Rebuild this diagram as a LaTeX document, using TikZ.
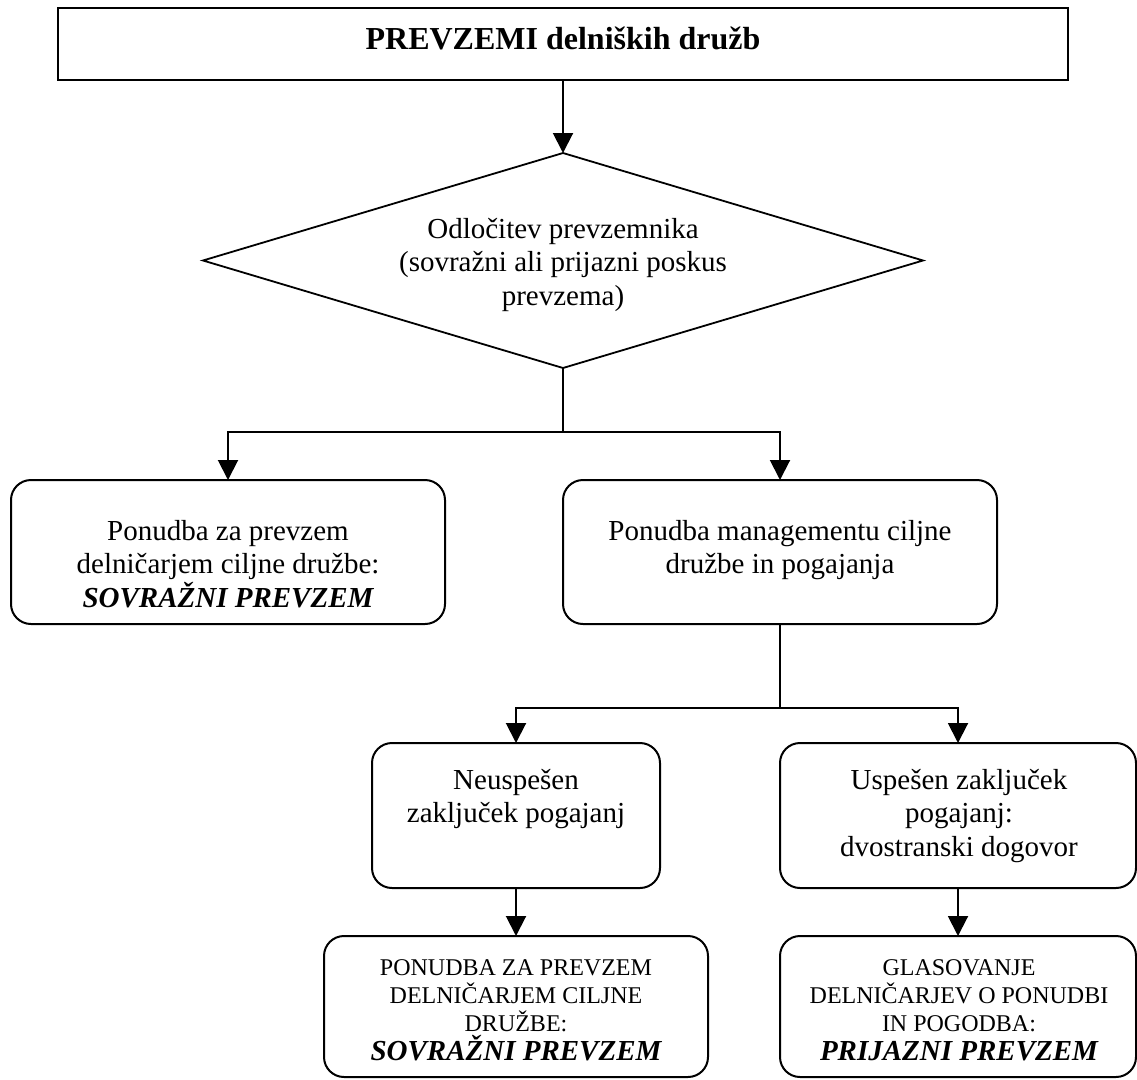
\documentclass[tikz,border=0pt]{standalone}
\usepackage{fontspec}
\setmainfont{Liberation Serif}
\usetikzlibrary{arrows.meta,shapes.geometric}
\begin{document}
\begin{tikzpicture}[x=1pt,y=-1pt,
  every node/.style={inner sep=0pt, outer sep=0pt},
  line/.style={line width=2pt},
  arr/.style={line, -{Triangle[width=20pt,length=20pt]}},
  sqbox/.style={draw, line width=2pt},
  rbox/.style={draw, line width=2pt, rounded corners=20pt},
  decision/.style={draw, diamond, line width=1.8pt, aspect=3.35},
  txt/.style={align=center, anchor=north, font=\fontsize{29}{33.5}\selectfont},
  captxt/.style={align=center, anchor=north, font=\fontsize{24}{27.8}\selectfont}
]
\useasboundingbox (0,0) rectangle (1137,1079);

% shapes
\node[sqbox, minimum width=1010pt, minimum height=72pt] (top) at (563,44) {};
\node[decision, minimum width=720pt, minimum height=215pt] (dec) at (563,260.5) {};
\node[rbox, minimum width=434pt, minimum height=144pt] (b1) at (228,552) {};
\node[rbox, minimum width=434pt, minimum height=144pt] (b2) at (780,552) {};
\node[rbox, minimum width=288pt, minimum height=145pt] (b3) at (516,815.5) {};
\node[rbox, minimum width=356pt, minimum height=145pt] (b4) at (958,815.5) {};
\node[rbox, minimum width=384pt, minimum height=141pt] (b5) at (516,1006.5) {};
\node[rbox, minimum width=356pt, minimum height=141pt] (b6) at (958,1006.5) {};

% texts
\node[anchor=base, font=\fontsize{32}{38}\selectfont\bfseries] (title) at (563,49) {PREVZEMI delniških družb};
\node[txt] (dtext) at (563,218.2) {Odločitev prevzemnika\\(sovražni ali prijazni poskus\\prevzema)};
\node[txt] (t1) at (228,520) {Ponudba za prevzem\\delničarjem ciljne družbe:\\{\bfseries\itshape SOVRAŽNI PREVZEM}};
\node[txt] (t2) at (780,520) {Ponudba managementu ciljne\\družbe in pogajanja};
\node[txt] (t3) at (516,769) {Neuspešen\\zaključek pogajanj};
\node[txt] (t4) at (959,769) {Uspešen zaključek\\pogajanj:\\dvostranski dogovor};
\node[captxt] (t5) at (516,959.5) {PONUDBA ZA PREVZEM\\DELNIČARJEM CILJNE\\DRUŽBE:\\[2pt]{\fontsize{29}{33.5}\selectfont\bfseries\itshape SOVRAŽNI PREVZEM}};
\node[captxt] (t6) at (959,959.5) {GLASOVANJE\\DELNIČARJEV O PONUDBI\\IN POGODBA:\\[2pt]{\fontsize{29}{33.5}\selectfont\bfseries\itshape PRIJAZNI PREVZEM}};

% connectors
\coordinate (j1) at (563,432);
\coordinate (j2) at (780,708);
\draw[arr] (top.south) -- (dec.north);
\draw[line] (dec.south) -- (j1);
\draw[arr] (j1) -| (b1.north);
\draw[arr] (j1) -| (b2.north);
\draw[line] (b2.south) -- (j2);
\draw[arr] (j2) -| (b3.north);
\draw[arr] (j2) -| (b4.north);
\draw[arr] (b3.south) -- (b5.north);
\draw[arr] (b4.south) -- (b6.north);
\end{tikzpicture}
\end{document}
